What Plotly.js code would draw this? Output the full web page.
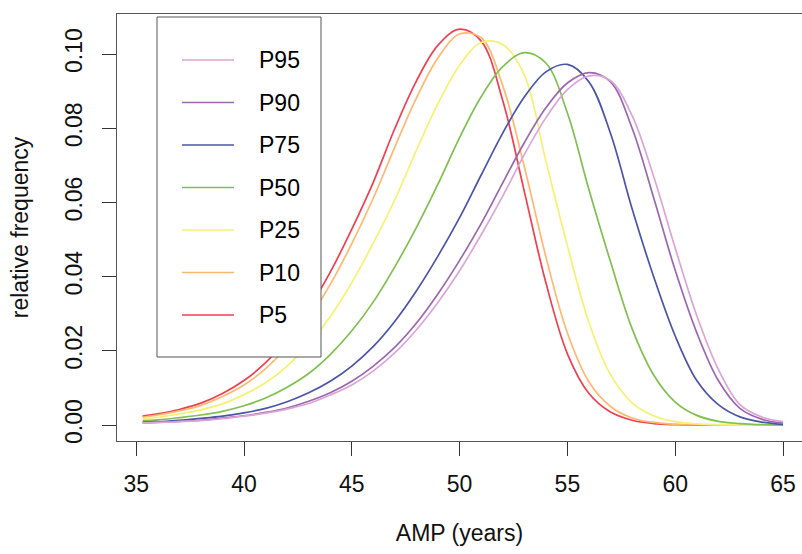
<!DOCTYPE html>
<html>
<head>
<meta charset="utf-8">
<script src="https://cdn.plot.ly/plotly-3.0.1.min.js"></script>
<style>html,body{margin:0;padding:0;background:#fff;}#chart{width:802px;height:554px;}</style>
</head>
<body>
<div id="chart"></div>
<script>
var ages = [35.3,36,37,38,39,40,41,42,43,44,45,46,47,48,49,50,51,52,53,54,55,56,57,58,59,60,61,62,63,64,65];

var p5  = [0.0024,0.0030,0.0042,0.0059,0.0085,0.0120,0.0168,0.0232,0.0313,0.0412,0.0528,0.0655,0.0800,0.0928,0.1024,0.1067,0.1035,0.0875,0.0630,0.0384,0.0192,0.0085,0.0035,0.0013,0.0004,0.0001,0,0,0,0,0];
var p10 = [0.0021,0.0027,0.0038,0.0053,0.0077,0.0108,0.0152,0.0211,0.0286,0.0379,0.0489,0.0612,0.0750,0.0882,0.0990,0.1054,0.1044,0.0915,0.0697,0.0454,0.0248,0.0116,0.0050,0.0019,0.0007,0.0002,0.0001,0,0,0,0];
var p25 = [0.0017,0.0021,0.0030,0.0041,0.0057,0.0082,0.0114,0.0159,0.0218,0.0292,0.0384,0.0491,0.0608,0.0741,0.0867,0.0970,0.1031,0.1026,0.0944,0.0712,0.0483,0.0276,0.0136,0.0060,0.0025,0.0009,0.0003,0.0001,0,0,0];
var p50 = [0.0012,0.0014,0.0020,0.0027,0.0037,0.0052,0.0073,0.0102,0.0139,0.0190,0.0254,0.0332,0.0427,0.0533,0.0650,0.0775,0.0885,0.0966,0.1004,0.0976,0.0841,0.0634,0.0440,0.0260,0.0135,0.0062,0.0026,0.0010,0.0004,0.0001,0];
var p75 = [0.0008,0.0009,0.0013,0.0018,0.0024,0.0033,0.0045,0.0063,0.0087,0.0118,0.0159,0.0212,0.0280,0.0362,0.0456,0.0559,0.0674,0.0787,0.0884,0.0952,0.0972,0.0925,0.0786,0.0583,0.0400,0.0240,0.0120,0.0055,0.0022,0.0008,0.0002];
var p90 = [0.0006,0.0007,0.0010,0.0013,0.0019,0.0025,0.0034,0.0046,0.0064,0.0087,0.0118,0.0159,0.0210,0.0275,0.0354,0.0444,0.0543,0.0653,0.0761,0.0855,0.0922,0.0950,0.0925,0.0800,0.0613,0.0417,0.0249,0.0120,0.0045,0.0016,0.0005];
var p95 = [0.0006,0.0007,0.0009,0.0012,0.0017,0.0024,0.0032,0.0043,0.0058,0.0081,0.0108,0.0146,0.0195,0.0257,0.0331,0.0416,0.0513,0.0617,0.0729,0.0828,0.0904,0.0941,0.0928,0.0834,0.0670,0.0477,0.0295,0.0150,0.0055,0.0022,0.0009];

var seriesNames  = ['P95','P90','P75','P50','P25','P10','P5'];
var seriesValues = [p95, p90, p75, p50, p25, p10, p5];
var seriesColors = ['#DCA5D6','#9A68B0','#4A55A8','#80C050','#F8F070','#FFB870','#F04050'];

var xTicks = [35,40,45,50,55,60,65];
var yTicks = [0,0.02,0.04,0.06,0.08,0.10];
var yTickText = ['0.00','0.02','0.04','0.06','0.08','0.10'];

var traces = [];
for (var i = seriesNames.length - 1; i >= 0; i--) {
  traces.push({
    x: ages, y: seriesValues[i], type: 'scatter', mode: 'lines',
    name: seriesNames[i], showlegend: false,
    line: {color: seriesColors[i], width: 1.7, shape: 'spline', smoothing: 1},
    hoverinfo: 'x+y+name'
  });
}

var FAM = 'Liberation Sans, Arial, Helvetica, sans-serif';
var FS = 23;

// plot area in pixels (for placing the legend box)
var PL = 117, PT = 14, PW = 685, PH = 427;
function px2x(p) { return (p - PL) / PW; }
function py2y(p) { return (PT + PH - p) / PH; }

var shapes = [{
  type: 'rect', xref: 'paper', yref: 'paper', layer: 'above',
  x0: px2x(157), x1: px2x(321), y0: py2y(357), y1: py2y(17),
  line: {color: '#555', width: 1}, fillcolor: '#ffffff'
}];
var annotations = [];
for (var k = 0; k < seriesNames.length; k++) {
  var yy = py2y(60 + 42.5 * k);
  shapes.push({
    type: 'line', xref: 'paper', yref: 'paper', layer: 'above',
    x0: px2x(182), x1: px2x(234), y0: yy, y1: yy,
    line: {color: seriesColors[k], width: 1.7}
  });
  annotations.push({
    xref: 'paper', yref: 'paper', x: px2x(257), y: yy,
    xanchor: 'left', yanchor: 'middle', showarrow: false,
    text: seriesNames[k], font: {family: FAM, size: FS, color: '#000'}
  });
}

var layout = {
  width: 802, height: 554,
  margin: {l: PL, r: 0, t: PT, b: 554 - PT - PH, pad: 0},
  paper_bgcolor: '#fff', plot_bgcolor: '#fff',
  font: {family: FAM, size: FS, color: '#000'},
  showlegend: false,
  xaxis: {
    range: [34.11, 65.88], autorange: false,
    tickvals: xTicks, ticktext: xTicks.map(String),
    ticks: 'outside', ticklen: 14, tickwidth: 1, tickcolor: '#333',
    showline: true, linecolor: '#555', linewidth: 1, mirror: true,
    showgrid: false, zeroline: false,
    tickfont: {family: FAM, size: FS, color: '#111'},
    ticklabelstandoff: 8,
    title: {text: 'AMP (years)', font: {family: FAM, size: FS, color: '#111'}, standoff: 29}
  },
  yaxis: {
    range: [-0.0043, 0.1108], autorange: false,
    tickvals: yTicks, ticktext: yTickText,
    ticks: 'outside', ticklen: 14, tickwidth: 1, tickcolor: '#333',
    tickangle: -90,
    showline: true, linecolor: '#555', linewidth: 1, mirror: true,
    showgrid: false, zeroline: false,
    tickfont: {family: FAM, size: FS, color: '#111'},
    ticklabelstandoff: 11,
    title: {text: 'relative frequency', font: {family: FAM, size: FS, color: '#111'}, standoff: 25}
  },
  shapes: shapes,
  annotations: annotations
};

Plotly.newPlot('chart', traces, layout, {staticPlot: true, displayModeBar: false});
</script>
</body>
</html>
